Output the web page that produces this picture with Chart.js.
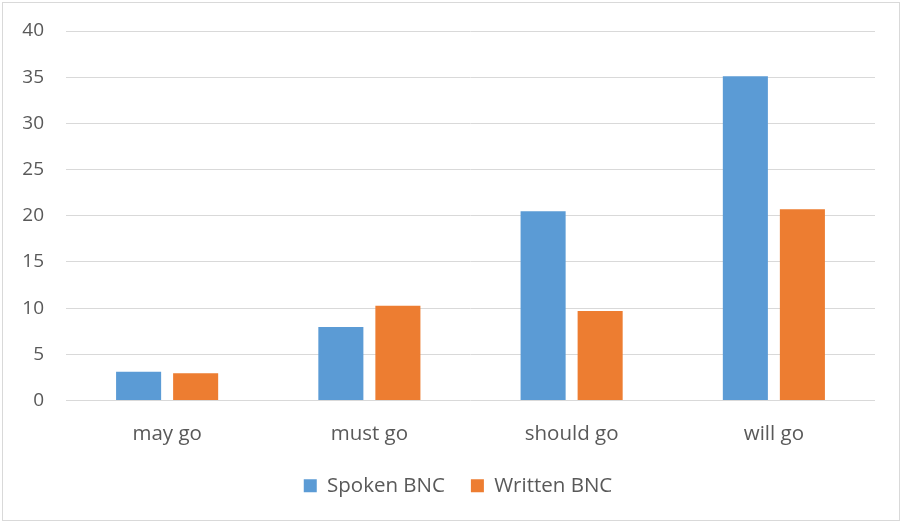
<!DOCTYPE html>
<html>
<head>
<meta charset="utf-8">
<script src="https://cdn.jsdelivr.net/npm/chart.js@4"></script>
<style>
    html, body { margin: 0; padding: 0; background: #fff; }
    #wrap {
        position: absolute; left: 2px; top: 2px;
        width: 896px; height: 517px;
        border: 1px solid #d9d9d9;
    }
    canvas { display: block; }
</style>
</head>
<body>
<div id="wrap"><canvas id="chartBnc" width="896" height="517"></canvas></div>
<script>
// Datos
const categorias = ['may go', 'must go', 'should go', 'will go'];
const spokenBnc = [3.1, 7.95, 20.5, 35.1];
const writtenBnc = [2.95, 10.25, 9.7, 20.7];

const FUENTE = '"Open Sans", "Noto Sans", sans-serif';
const GRIS_TEXTO = '#595959';

// Mover la leyenda un poco a la derecha, como en el original
const moverLeyenda = {
    id: 'moverLeyenda',
    afterLayout(chart) {
        chart.legend.left += 19;
        chart.legend.right += 19;
    }
};

const ctx = document.getElementById('chartBnc').getContext('2d');
const chartBnc = new Chart(ctx, {
    type: 'bar',
    data: {
        labels: categorias,
        datasets: [{
            label: 'Spoken BNC',
            data: spokenBnc,
            backgroundColor: '#5b9bd5',
            borderWidth: 0
        }, {
            label: 'Written BNC',
            data: writtenBnc,
            backgroundColor: '#ed7d31',
            borderWidth: 0
        }]
    },
    plugins: [moverLeyenda],
    options: {
        responsive: false,
        animation: false,
        layout: { padding: { top: 28, right: 24, left: 0, bottom: 14 } },
        categoryPercentage: 0.564,
        barPercentage: 0.79,
        scales: {
            x: {
                grid: { display: false, drawTicks: false },
                border: { display: false },
                ticks: {
                    color: GRIS_TEXTO,
                    font: { family: FUENTE, size: 20.5 },
                    padding: 21
                },
                afterFit: s => { s.height = 49; }
            },
            y: {
                min: 0,
                max: 40,
                ticks: {
                    stepSize: 5,
                    color: GRIS_TEXTO,
                    font: { family: FUENTE, size: 19 },
                    padding: 22
                },
                grid: { color: '#d9d9d9', lineWidth: 1, drawTicks: false },
                border: { display: false },
                afterFit: s => {
                    s.width = 63;
                    s.paddingTop = 0;
                    s.paddingBottom = 0;
                }
            }
        },
        plugins: {
            legend: {
                position: 'bottom',
                labels: {
                    color: GRIS_TEXTO,
                    font: { family: FUENTE, size: 20.5 },
                    boxWidth: 13,
                    boxHeight: 13,
                    padding: 26
                }
            },
            tooltip: { enabled: false }
        }
    }
});
</script>
</body>
</html>
